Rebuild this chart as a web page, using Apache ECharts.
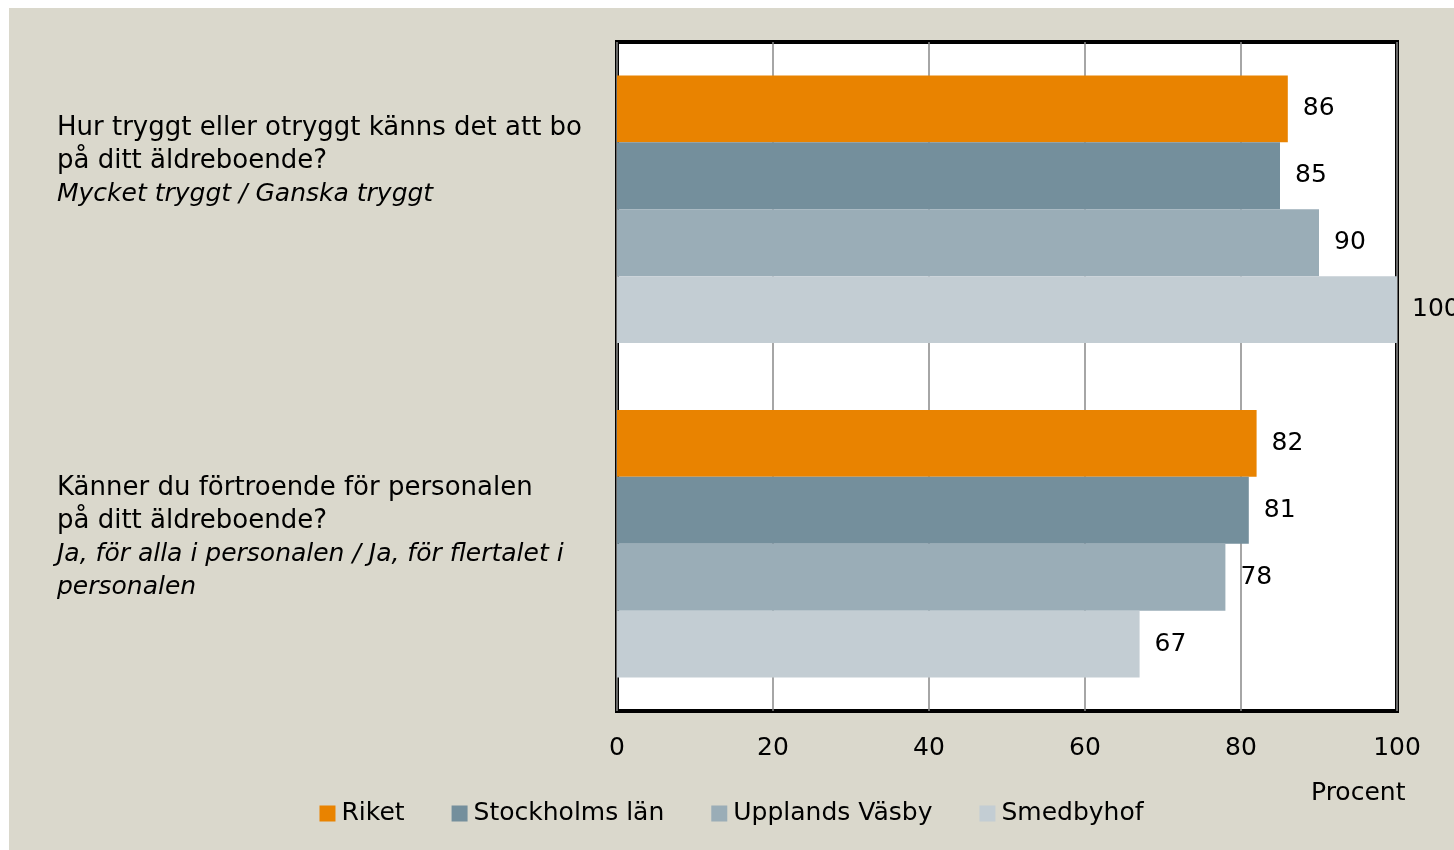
<!DOCTYPE html>
<html>
<head>
<meta charset="utf-8">
<script src="https://cdn.jsdelivr.net/npm/echarts@6/dist/echarts.min.js"></script>
<style>
  html, body { margin: 0; padding: 0; background: #fff; }
  #chart { position: absolute; left: 9px; top: 8px; width: 1445px; height: 842px; }
</style>
</head>
<body>
<div id="chart"></div>
<script>
const questions = [
  'Hur tryggt eller otryggt känns det att bo\npå ditt äldreboende?',
  'Känner du förtroende för personalen\npå ditt äldreboende?'
]
const answers = [
  'Mycket tryggt / Ganska tryggt',
  'Ja, för alla i personalen / Ja, för flertalet i\npersonalen'
]
const seriesNames = ['Riket', 'Stockholms län', 'Upplands Väsby', 'Smedbyhof']
const riket = [86, 82]
const stockholm = [85, 81]
const upplandsVasby = [90, 78]
const smedbyhof = [100, 67]
const xTicks = [0, 20, 40, 60, 80, 100]

const colors = ['#E98300', '#748F9C', '#9AADB7', '#C3CDD3']
const fontFamily = '"DejaVu Sans", sans-serif'
// extra blank space under each label block so the text sits like in the original
const labelPad = [96, 12]

const chart = echarts.init(document.getElementById('chart'))

const values = [riket, stockholm, upplandsVasby, smedbyhof]

chart.setOption({
  backgroundColor: '#DAD8CC',
  animation: false,
  textStyle: { fontFamily: fontFamily },
  title: {
    text: 'Procent',
    left: 1297,
    top: 768,
    textStyle: { fontSize: 25, fontWeight: 'normal', color: '#000', fontFamily: fontFamily }
  },
  legend: {
    bottom: 19,
    left: 'center',
    itemWidth: 16,
    itemHeight: 16,
    itemGap: 47,
    icon: 'rect',
    textStyle: { fontSize: 25, color: '#000', fontFamily: fontFamily, padding: [0, 0, 0, 1] },
    data: seriesNames
  },
  grid: {
    left: 608,
    top: 34,
    width: 780,
    height: 669,
    show: true,
    backgroundColor: '#fff',
    borderColor: '#000',
    borderWidth: 4,
    containLabel: false
  },
  xAxis: {
    type: 'value',
    min: 0,
    max: 100,
    interval: 20,
    axisLine: { show: false },
    axisTick: { show: false },
    splitLine: { show: true, lineStyle: { color: '#888', width: 1.5 } },
    axisLabel: {
      margin: 25,
      fontSize: 25,
      color: '#000',
      fontFamily: fontFamily,
      formatter: v => xTicks.includes(v) ? String(v) : ''
    }
  },
  yAxis: {
    type: 'category',
    inverse: true,
    data: questions.map((q, i) => i),
    axisLine: { show: false },
    axisTick: { show: false },
    axisLabel: {
      margin: 560,
      align: 'left',
      formatter: (v, i) => {
        const q = questions[i].split('\n').map(l => '{q|' + l + '}').join('\n')
        const a = answers[i].split('\n').map(l => '{a|' + l + '}').join('\n')
        return q + '\n' + a + '\n{p' + i + '| }'
      },
      rich: {
        q: { fontSize: 26, lineHeight: 33, color: '#000', fontFamily: fontFamily },
        a: { fontSize: 25, lineHeight: 33, color: '#000', fontStyle: 'italic', fontFamily: fontFamily },
        p0: { fontSize: 10, lineHeight: labelPad[0] },
        p1: { fontSize: 10, lineHeight: labelPad[1] }
      }
    }
  },
  series: seriesNames.map((name, k) => ({
    name: name,
    type: 'bar',
    data: values[k],
    barGap: '0%',
    barCategoryGap: '20%',
    itemStyle: { color: colors[k] },
    label: {
      show: true,
      position: 'right',
      distance: 15,
      fontSize: 25,
      color: '#000',
      fontFamily: fontFamily
    }
  }))
})
</script>
</body>
</html>
